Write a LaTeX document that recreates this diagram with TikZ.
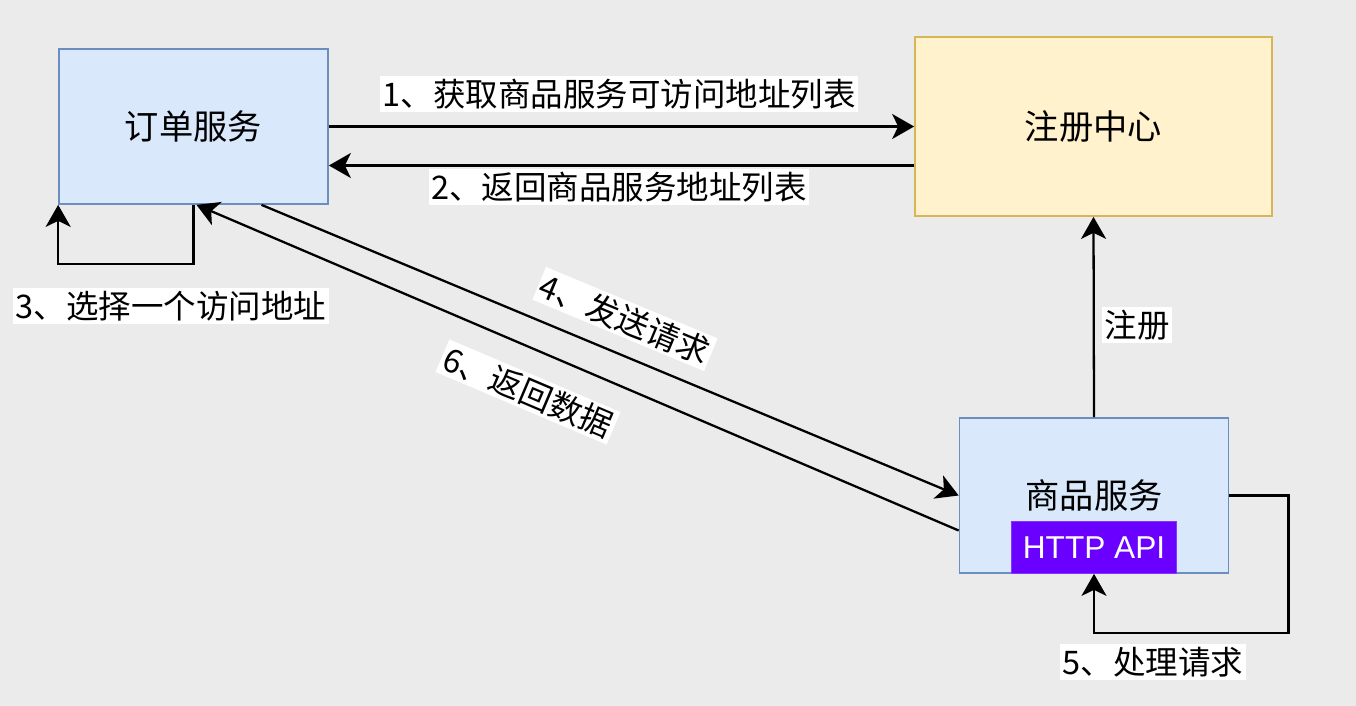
\documentclass[tikz,border=0pt]{standalone}
\usepackage{fontspec}
\setmainfont{Noto Sans CJK SC}
\newfontfamily\apifont{Liberation Sans}
\usepackage{xcolor}
\usepackage{tikz}
\usetikzlibrary{arrows.meta,positioning,calc}
\definecolor{canvasgray}{RGB}{235,235,235}
\definecolor{svcblue}{RGB}{218,232,252}
\definecolor{svcborder}{RGB}{108,142,191}
\definecolor{regyellow}{RGB}{255,242,204}
\definecolor{regborder}{RGB}{214,182,86}
\definecolor{apipurple}{RGB}{106,0,255}

\begin{document}
\begin{tikzpicture}[x=0.02cm,y=-0.02cm,
    svcbox/.style={draw=svcborder,fill=svcblue,line width=1pt,minimum width=5.38cm,minimum height=3.1cm,font=\fontsize{19.5}{23}\selectfont},
    regbox/.style={draw=regborder,fill=regyellow,line width=1pt,minimum width=7.14cm,minimum height=3.58cm,font=\fontsize{19.5}{23}\selectfont},
    apibox/.style={draw=apipurple!80,fill=apipurple,text=white,minimum width=3.3cm,minimum height=1.04cm,inner sep=0pt,font=\apifont\fontsize{18}{21}\selectfont},
    msg/.style={fill=white,inner sep=1.5pt,font=\fontsize{18.5}{22}\selectfont},
    arr/.style={line width=1.3pt,-{Stealth[length=0.44cm,width=0.5cm,inset=0.12cm]}}]
    \useasboundingbox[fill=canvasgray] (0,0) rectangle (1356,706);
    % boxes
    \node[svcbox] (order) at (193.5,126.5) {订单服务};
    \node[regbox] (reg) at (1093.5,126.5) {注册中心};
    \node[svcbox] (prod) at (1094,495.5) {商品服务};
    \node[apibox,anchor=south] (api) at (prod.south) {HTTP API};
    % arrows
    \draw[arr] (order.east) -- (reg.west);
    \draw[arr] ($(reg.west)+(0,39)$) -- ($(order.east)+(0,39)$);
    \draw[arr] (order.south) -- ++(0,59) -| (order.south west);
    \draw[arr] ($(order.south)+(68,0)$) -- (prod.west);
    \draw[arr] ($(prod.west)+(0,35)$) -- ($(order.south)+(3,0)$);
    \draw[arr] (prod.north) -- (reg.south);
    \draw[arr] (prod.east) -- ++(59,0) |- ($(api.south)+(0,59)$) -- (api.south);
    % labels
    \node[msg] (m1) at (619,94) {1、获取商品服务可访问地址列表};
    \node[msg] (m2) at (619,187) {2、返回商品服务地址列表};
    \node[msg] (m3) at (171,306) {3、选择一个访问地址};
    \node[msg,rotate=-22.6] (m4) at (625,319) {4、发送请求};
    \node[msg] (m5) at (1153,662) {5、处理请求};
    \node[msg,rotate=-23] (m6) at (528,392) {6、返回数据};
    \node[msg] (mreg) at (1137,325) {注册};
\end{tikzpicture}
\end{document}
